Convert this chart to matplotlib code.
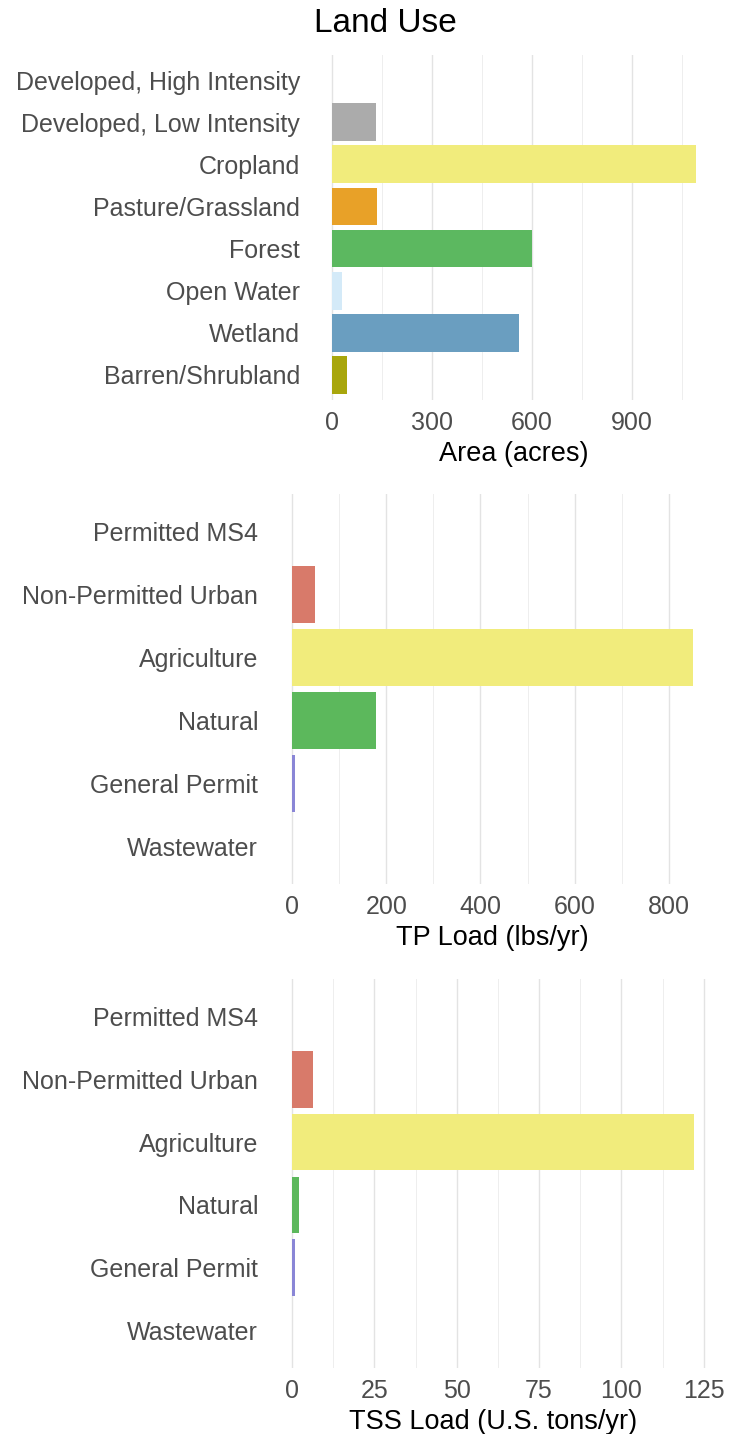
import matplotlib
matplotlib.use("Agg")
import matplotlib.pyplot as plt
from matplotlib.ticker import MultipleLocator

plt.rcParams['font.family'] = ['Liberation Sans', 'DejaVu Sans']

# Land use areas (acres)
land_cats = ['Developed, High Intensity', 'Developed, Low Intensity', 'Cropland',
             'Pasture/Grassland', 'Forest', 'Open Water', 'Wetland', 'Barren/Shrubland']
land_area = [0, 132, 1092, 136, 599, 29, 560, 46]
land_colors = ['#d9d9d9', '#ababab', '#f1ec7c', '#e8a128', '#5cb860',
               '#d4eaf8', '#6a9ec0', '#a8a60c']

# Source loads
src_cats = ['Permitted MS4', 'Non-Permitted Urban', 'Agriculture', 'Natural',
            'General Permit', 'Wastewater']
tp_load = [0, 48, 851, 179, 6, 0]
tss_load = [0, 6.2, 122, 2.1, 0.8, 0]
src_colors = ['#8fb0d8', '#d87a6a', '#f1ec7c', '#5cb85c', '#8a86d6', '#c8a0c8']

W, H = 740, 1434
fig = plt.figure(figsize=(W / 100, H / 100), dpi=100)


def box(left, top, right, bottom):
    return [left / W, 1 - bottom / H, (right - left) / W, (bottom - top) / H]


def hbar(ax, cats, vals, colors, major, minor, xlabel):
    pos = list(range(len(cats)))
    ax.barh(pos, vals, height=0.9, color=colors, zorder=2)
    ax.set_yticks(pos)
    ax.set_yticklabels(cats)
    ax.set_ylim(len(cats) - 0.4, -0.6)
    vmax = max(vals)
    ax.set_xlim(-0.05 * vmax, 1.05 * vmax)
    ax.xaxis.set_major_locator(MultipleLocator(major))
    ax.xaxis.set_minor_locator(MultipleLocator(minor))
    ax.grid(axis='x', which='major', color='#e3e3e3', linewidth=1.0, zorder=0)
    ax.grid(axis='x', which='minor', color='#eeeeee', linewidth=0.7, zorder=0)
    for s in ax.spines.values():
        s.set_visible(False)
    ax.tick_params(axis='both', which='both', length=0, colors='#4d4d4d',
                   labelsize=18)
    ax.tick_params(axis='x', pad=8)
    ax.tick_params(axis='y', pad=10)
    ax.set_xlabel(xlabel, fontsize=19.5, color='black', labelpad=4)


ax1 = fig.add_axes(box(314, 55, 714, 400))
hbar(ax1, land_cats, land_area, land_colors, 300, 150, 'Area (acres)')

ax2 = fig.add_axes(box(272, 494, 713, 884))
hbar(ax2, src_cats, tp_load, src_colors, 200, 100, 'TP Load (lbs/yr)')

ax3 = fig.add_axes(box(272, 979, 714, 1368))
hbar(ax3, src_cats, tss_load, src_colors, 25, 12.5, 'TSS Load (U.S. tons/yr)')

fig.text(385 / W, 1 - 24 / H, 'Land Use', fontsize=24, ha='center', va='center')

fig.savefig('out.png', dpi=100, facecolor='white')
